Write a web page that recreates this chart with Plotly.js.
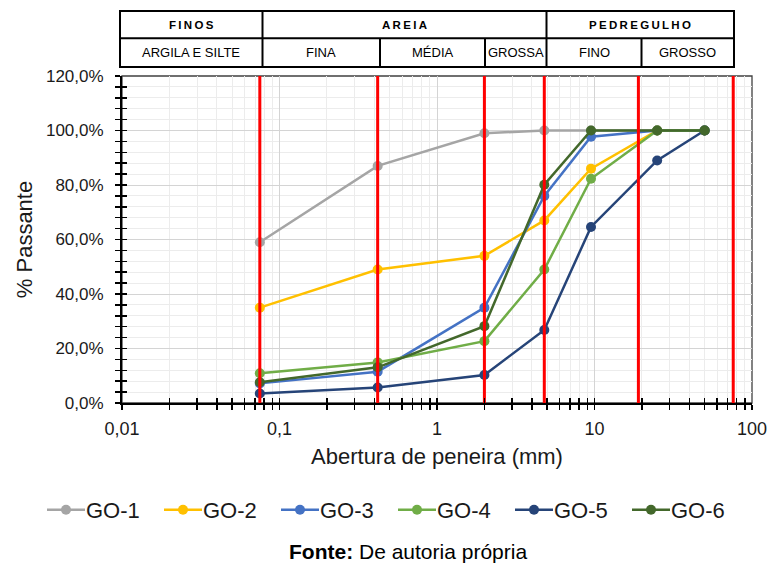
<!DOCTYPE html>
<html>
<head>
<meta charset="utf-8">
<script src="https://cdn.plot.ly/plotly-3.0.1.min.js"></script>
<style>html,body{margin:0;padding:0;background:#fff;}#chart{width:772px;height:568px;}</style>
</head>
<body>
<div id="chart"></div>
<script>
// ---- data ----
const sieves = [0.075, 0.42, 2.0, 4.8, 9.5, 25, 50];
const seriesNames = ['GO-1', 'GO-2', 'GO-3', 'GO-4', 'GO-5', 'GO-6'];
const go1 = [59.0, 87.0, 99.0, 100, 100, 100, 100];
const go2 = [35.0, 49.0, 54.0, 67.0, 86.0, 100, 100];
const go3 = [7.2, 11.5, 35.0, 76.0, 97.7, 100, 100];
const go4 = [10.9, 14.9, 22.7, 49.0, 82.3, 100, 100];
const go5 = [3.5, 5.7, 10.3, 26.8, 64.6, 89.0, 100];
const go6 = [7.6, 13.1, 28.2, 80.1, 100, 100, 100];
const boundaries = [0.075, 0.42, 2.0, 4.8, 19, 76];
const xTickVals = [0.01, 0.1, 1, 10, 100];
const xTickText = ['0,01', '0,1', '1', '10', '100'];
const tableRow1 = ['FINOS', 'AREIA', 'PEDREGULHO'];
const tableRow2 = ['ARGILA E SILTE', 'FINA', 'MÉDIA', 'GROSSA', 'FINO', 'GROSSO'];

// ---- styling ----
const colors = ['#A5A5A5', '#FFC000', '#4472C4', '#70AD47', '#264478', '#43682B'];
const FONT = 'Liberation Sans, Arial, sans-serif';
const L = 122, R = 752, T = 76, B = 403;
const px = x => (x - L) / (R - L);
const py = y => (B - y) / (B - T);

const minorVals = [];
for (let e = -2; e < 2; e++) for (let m = 2; m <= 9; m++) minorVals.push(m * Math.pow(10, e));
const allVals = xTickVals.concat(minorVals);

const allSeries = [go1, go2, go3, go4, go5, go6];
const traces = allSeries.map((ys, i) => ({
  x: sieves, y: ys, name: seriesNames[i], type: 'scatter', mode: 'lines+markers',
  line: {color: colors[i], width: 2.5}, marker: {color: colors[i], size: 10},
  hoverinfo: 'x+y+name'
}));
boundaries.forEach(v => traces.push({
  x: [v, v], y: [0, 120], type: 'scatter', mode: 'lines',
  line: {color: '#FF0000', width: 3}, showlegend: false, hoverinfo: 'skip'
}));
traces.push({x: [], y: [], xaxis: 'x2', yaxis: 'y2', type: 'scatter', showlegend: false, hoverinfo: 'skip'});

// ---- table above plot ----
const shapes = [];
const annotations = [];
const tY = [11, 38.3, 67];
const row1X = [120, 262.5, 546.5, 734];
const row2X = [120, 262.5, 380, 485, 546.5, 641.5, 734];
const lineStyle = {color: '#000', width: 2};
shapes.push({type: 'rect', xref: 'paper', yref: 'paper', x0: px(120), x1: px(734), y0: py(tY[0]), y1: py(tY[2]), line: lineStyle});
shapes.push({type: 'line', xref: 'paper', yref: 'paper', x0: px(120), x1: px(734), y0: py(tY[1]), y1: py(tY[1]), line: lineStyle});
row1X.slice(1, -1).forEach(x => shapes.push({type: 'line', xref: 'paper', yref: 'paper', x0: px(x), x1: px(x), y0: py(tY[0]), y1: py(tY[1]), line: lineStyle}));
row2X.slice(1, -1).forEach(x => shapes.push({type: 'line', xref: 'paper', yref: 'paper', x0: px(x), x1: px(x), y0: py(tY[1]), y1: py(tY[2]), line: lineStyle}));
const spaced = s => s.split('').join('\u2009');
tableRow1.forEach((t, i) => annotations.push({
  xref: 'paper', yref: 'paper', x: px((row1X[i] + row1X[i + 1]) / 2), y: py((tY[0] + tY[1]) / 2),
  text: '<b>' + spaced(t) + '</b>', showarrow: false, xanchor: 'center', yanchor: 'middle',
  font: {family: FONT, size: 11.5, color: '#000'}
}));
tableRow2.forEach((t, i) => annotations.push({
  xref: 'paper', yref: 'paper', x: px((row2X[i] + row2X[i + 1]) / 2), y: py((tY[1] + tY[2]) / 2),
  text: t, showarrow: false, xanchor: 'center', yanchor: 'middle',
  font: {family: FONT, size: 13, color: '#000'}
}));
// plot frame (top / right)
shapes.push({type: 'rect', xref: 'paper', yref: 'paper', x0: 0, x1: 1, y0: 0, y1: 1, line: {color: '#404040', width: 1.3}, layer: 'below'});
// source note
annotations.push({
  xref: 'paper', yref: 'paper', x: px(408), y: py(551), xanchor: 'center', yanchor: 'middle',
  text: '<b>Fonte:</b> De autoria própria', showarrow: false,
  font: {family: FONT, size: 21, color: '#000'}
});

const layout = {
  width: 772, height: 568,
  margin: {l: L, r: 772 - R, t: T, b: 568 - B, pad: 0},
  paper_bgcolor: '#fff', plot_bgcolor: '#fff',
  separators: ',.',
  font: {family: FONT, color: '#1a1a1a'},
  showlegend: true,
  legend: {
    orientation: 'h', x: px(46), xanchor: 'left', y: py(510), yanchor: 'middle',
    font: {family: FONT, size: 22, color: '#1a1a1a'}, entrywidth: 72, traceorder: 'normal'
  },
  xaxis: {
    type: 'log', range: [-2, 2], tickmode: 'array', tickvals: xTickVals, ticktext: xTickText,
    ticks: 'outside', ticklen: 5, tickwidth: 1.5, tickcolor: '#000',
    showline: true, linecolor: '#000', linewidth: 2,
    showgrid: true, gridcolor: '#d4d4d4', gridwidth: 1, zeroline: false,
    minor: {tickmode: 'array', tickvals: minorVals, ticks: 'outside', ticklen: 5, tickwidth: 1.5, tickcolor: '#000', showgrid: true, gridcolor: '#ececec', gridwidth: 1},
    tickfont: {family: FONT, size: 18, color: '#1a1a1a'}, ticklabelstandoff: 3,
    title: {text: 'Abertura de peneira (mm)', font: {family: FONT, size: 22, color: '#1a1a1a'}, standoff: 11},
    fixedrange: true
  },
  xaxis2: {
    type: 'log', range: [-2, 2], overlaying: 'x', anchor: 'y2', side: 'bottom',
    tickmode: 'array', tickvals: allVals, ticks: 'inside', ticklen: 5, tickwidth: 1.5, tickcolor: '#000',
    showticklabels: false, showgrid: false, showline: false, zeroline: false
  },
  yaxis: {
    range: [0, 120], tickmode: 'linear', tick0: 0, dtick: 20, tickformat: '.1f', ticksuffix: '%',
    ticks: 'outside', ticklen: 5, tickwidth: 1.5, tickcolor: '#000',
    showline: true, linecolor: '#000', linewidth: 2,
    showgrid: true, gridcolor: '#d4d4d4', gridwidth: 1, zeroline: false,
    minor: {dtick: 4, ticks: 'outside', ticklen: 5, tickwidth: 1.5, tickcolor: '#000', showgrid: true, gridcolor: '#ececec', gridwidth: 1},
    tickfont: {family: FONT, size: 17, color: '#1a1a1a'}, ticklabelstandoff: 8,
    title: {text: '% Passante', font: {family: FONT, size: 22, color: '#1a1a1a'}, standoff: 7},
    fixedrange: true
  },
  yaxis2: {
    range: [0, 120], overlaying: 'y', anchor: 'x2', side: 'left',
    tickmode: 'linear', tick0: 0, dtick: 4, ticks: 'inside', ticklen: 5, tickwidth: 1.5, tickcolor: '#000',
    showticklabels: false, showgrid: false, showline: false, zeroline: false
  },
  shapes: shapes,
  annotations: annotations
};

Plotly.newPlot('chart', traces, layout, {displayModeBar: false, staticPlot: true}).then(gd => {
  // lengthen legend line samples to match the reference (marker stays centred at 20px)
  gd.querySelectorAll('.legendlines path').forEach(p => p.setAttribute('d', 'M1,0h38'));
});
</script>
</body>
</html>
